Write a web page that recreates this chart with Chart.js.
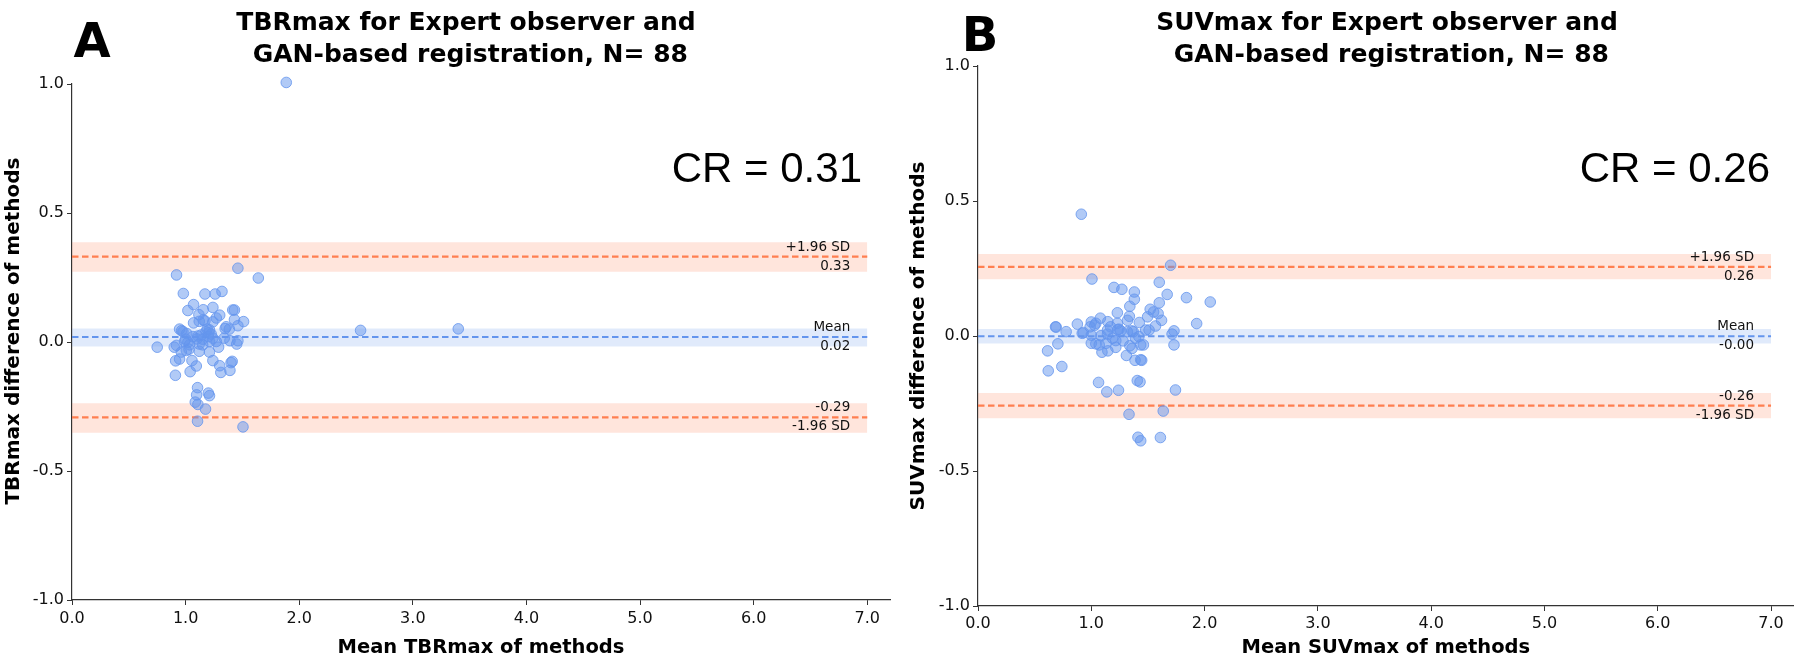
<!DOCTYPE html>
<html>
<head>
<meta charset="utf-8">
<script src="https://cdn.jsdelivr.net/npm/chart.js@4/dist/chart.umd.min.js"></script>
<style>
  body { margin: 0; background: #fff; }
  #wrap { position: relative; width: 1800px; height: 658px; }
  .panel { position: absolute; top: 0; width: 900px; height: 658px; }
</style>
</head>
<body>
<div id="wrap">
  <div class="panel" style="left:0"><canvas id="chartA" width="900" height="658"></canvas></div>
  <div class="panel" style="left:900px"><canvas id="chartB" width="900" height="658"></canvas></div>
</div>
<script>
// tick labels (both panels)
const xTicks = [0, 1, 2, 3, 4, 5, 6, 7];
const yTicks = [-1, -0.5, 0, 0.5, 1];

// panel A: TBRmax
const tbrMean = [0.75, 0.92, 0.98, 1.17, 1.26, 1.32, 1.46, 1.64, 1.07, 1.02, 1.155, 1.24, 1.117, 1.415, 1.43, 1.30,
  1.27, 1.24, 1.07, 1.12, 1.155, 1.17, 1.43, 1.51, 1.46, 1.357, 1.385, 0.947, 0.977, 1.01, 1.064, 1.108, 1.137, 1.18,
  1.21, 1.225, 1.24, 1.21, 1.34, 1.39, 1.46, 1.45, 1.29, 1.12, 1.02, 0.99, 0.90, 0.92, 1.03, 1.006, 0.962, 1.12, 1.21,
  0.947, 0.912, 1.056, 1.094, 1.04, 0.91, 1.24, 1.30, 1.31, 1.39, 1.41, 1.40, 1.105, 1.097, 1.20, 1.21, 1.085, 1.108,
  1.175, 1.105, 1.505, 2.54, 3.40, 1.886, 0.965, 1.10, 1.15, 1.19, 1.2, 1.035, 1.27, 1.15, 1.205, 1.348, 1.0];
const tbrDiff = [-0.02, 0.26, 0.188, 0.186, 0.186, 0.196, 0.286, 0.248, 0.145, 0.122, 0.125, 0.134, 0.106, 0.124, 0.124,
  0.104, 0.093, 0.078, 0.074, 0.08, 0.085, 0.082, 0.087, 0.079, 0.063, 0.059, 0.05, 0.05, 0.04, 0.033, 0.021, 0.023,
  0.027, 0.04, 0.047, 0.031, 0.015, 0.002, 0.015, 0.005, 0.005, -0.008, -0.02, -0.008, -0.001, 0.002, -0.02, -0.013,
  -0.028, -0.033, -0.039, -0.036, -0.039, -0.066, -0.073, -0.072, -0.093, -0.115, -0.129, -0.072, -0.092, -0.118,
  -0.11, -0.075, -0.08, -0.177, -0.205, -0.198, -0.208, -0.233, -0.242, -0.26, -0.307, -0.329, 0.045, 0.051, 1.006,
  0.044, 0.012, 0.011, 0.05, 0.021, -0.011, 0.002, -0.011, 0.036, 0.052, 0.011];
const tbrLines = [0.331, 0.0195, -0.292];            // +1.96 SD, mean, -1.96 SD
const tbrBandLo = [0.272, -0.017, -0.352];
const tbrBandHi = [0.387, 0.052, -0.237];

// panel B: SUVmax
const suvMean = [0.912, 1.70, 1.006, 1.60, 1.20, 1.27, 1.38, 1.67, 1.84, 2.05, 1.38, 1.60, 1.34, 1.52, 1.55, 1.59,
  1.497, 1.336, 1.62, 1.32, 1.23, 1.146, 1.08, 1.0, 1.04, 0.877, 0.684, 0.69, 0.778, 0.92, 0.93, 0.99, 1.03, 1.23,
  1.424, 1.567, 1.93, 1.73, 1.713, 1.48, 1.51, 1.357, 1.37, 1.245, 1.26, 1.143, 1.143, 1.085, 1.187, 1.216, 1.28,
  1.39, 1.0, 1.04, 1.07, 1.13, 1.216, 1.34, 1.36, 1.436, 1.46, 1.73, 0.705, 0.614, 1.094, 1.146, 1.31, 1.386, 1.436,
  1.445, 0.62, 0.74, 1.064, 1.406, 1.43, 1.137, 1.24, 1.743, 1.333, 1.635, 1.412, 1.436, 1.61, 1.234, 1.318, 1.42,
  1.0, 1.17];
const suvDiff = [0.451, 0.262, 0.211, 0.199, 0.18, 0.173, 0.163, 0.154, 0.142, 0.126, 0.136, 0.123, 0.11, 0.099,
  0.089, 0.083, 0.071, 0.073, 0.058, 0.058, 0.086, 0.053, 0.066, 0.052, 0.047, 0.044, 0.034, 0.033, 0.016, 0.010,
  0.013, 0.034, 0.04, 0.047, 0.050, 0.037, 0.046, 0.019, 0.007, 0.022, 0.022, 0.019, 0.016, 0.025, 0.019, 0.022,
  0.007, 0.001, -0.008, -0.017, -0.018, -0.008, -0.027, -0.029, -0.033, -0.027, -0.042, -0.036, -0.046, -0.033,
  -0.033, -0.033, -0.029, -0.055, -0.06, -0.055, -0.072, -0.09, -0.088, -0.09, -0.129, -0.113, -0.172, -0.165, -0.17,
  -0.207, -0.201, -0.2, -0.29, -0.278, -0.375, -0.388, -0.376, 0.024, 0.016, -0.002, 0.003, 0.034];
const suvLines = [0.256, -0.001, -0.258];
const suvBandLo = [0.21, -0.028, -0.305];
const suvBandHi = [0.304, 0.026, -0.211];

const lineLabels = [['+1.96 SD', null], ['Mean', null], [null, '-1.96 SD']];

const BLUE = '#6495ED';
const CORAL = '#FF7F50';

function hline(y, color) {
  return {
    data: [{ x: 0, y: y }, { x: 7, y: y }],
    showLine: true, borderColor: color, borderWidth: 2.1, borderDash: [6.5, 3.5],
    pointRadius: 0, fill: false, clip: false
  };
}

function band(lo, hi, color) {
  return [
    { data: [{ x: 0, y: hi }, { x: 7, y: hi }], showLine: true, borderWidth: 0, pointRadius: 0,
      backgroundColor: color, fill: '+1' },
    { data: [{ x: 0, y: lo }, { x: 7, y: lo }], showLine: true, borderWidth: 0, pointRadius: 0, fill: false }
  ];
}

// titles, panel letter, y title, CR and line labels
const textPlugin = {
  id: 'texts',
  afterDraw(chart) {
    const p = chart.options.plugins.texts;
    const ctx = chart.ctx;
    const xs = chart.scales.x, ys = chart.scales.y;
    ctx.save();
    ctx.fillStyle = '#000';
    ctx.textAlign = 'center';
    ctx.textBaseline = 'middle';
    ctx.font = 'bold 25px "DejaVu Sans"';
    p.title.forEach((t, i) => ctx.fillText(t, p.titleX, p.titleY + i * 32));
    ctx.font = 'bold 48px "DejaVu Sans"';
    ctx.fillText(p.letter, p.letterX, p.letterY);

    // y axis title
    ctx.save();
    ctx.translate(p.yTitleX, p.yTitleY);
    ctx.rotate(-Math.PI / 2);
    ctx.font = 'bold 20px "DejaVu Sans"';
    ctx.fillText(p.yTitle, 0, 0);
    ctx.restore();

    ctx.textAlign = 'right';
    ctx.font = '42px "Liberation Sans", Arial';
    ctx.fillText(p.cr, p.crX, p.crY);

    ctx.font = '13.5px "DejaVu Sans"';
    ctx.fillStyle = '#111';
    const lx = xs.getPixelForValue(6.85);
    p.lines.forEach((v, i) => {
      const py = ys.getPixelForValue(v);
      const val = v.toFixed(2) === '0.00' && v < 0 ? '-0.00' : v.toFixed(2);
      const top = lineLabels[i][0] || val;
      const bottom = lineLabels[i][1] || val;
      ctx.fillText(top, lx, py - 9.5);
      ctx.fillText(bottom, lx, py + 9.5);
    });
    ctx.restore();
  }
};

function makePanel(id, xs, ys, lines, bandLo, bandHi, opts) {
  const points = xs.map((x, i) => ({ x: x, y: ys[i] }));
  const datasets = [
    { data: points, pointRadius: 5.3, pointBackgroundColor: 'rgba(100,149,237,0.5)',
      pointBorderColor: 'rgba(100,149,237,0.8)', pointBorderWidth: 1, showLine: false, clip: false },
    hline(lines[0], CORAL), hline(lines[1], BLUE), hline(lines[2], CORAL),
    ...band(bandLo[0], bandHi[0], 'rgba(255,127,80,0.2)'),
    ...band(bandLo[1], bandHi[1], 'rgba(100,149,237,0.2)'),
    ...band(bandLo[2], bandHi[2], 'rgba(255,127,80,0.2)')
  ];
  const tickFont = { family: 'DejaVu Sans', size: 16 };
  const titleFont = { family: 'DejaVu Sans', size: 19.5, weight: 'bold', lineHeight: 1 };
  return new Chart(document.getElementById(id), {
    type: 'scatter',
    data: { datasets },
    options: {
      responsive: false,
      animation: false,
      layout: { padding: { left: 0, top: opts.top, right: opts.right, bottom: 0 } },
      plugins: {
        legend: { display: false },
        tooltip: { enabled: false },
        texts: Object.assign({ lines: lines }, opts.texts)
      },
      scales: {
        x: {
          type: 'linear', min: 0, max: 7.2,
          afterBuildTicks: s => { s.ticks = xTicks.map(v => ({ value: v })); },
          afterFit: s => { s.height = opts.xHeight; },
          ticks: { font: tickFont, color: '#111', padding: opts.xTickPad, callback: v => v.toFixed(1) },
          grid: { drawOnChartArea: false, tickLength: 5, color: '#333' },
          border: { color: '#333', width: 1.2 },
          title: { display: true, text: opts.xTitle, font: titleFont, color: '#000', padding: { top: 0, bottom: 0 } }
        },
        y: {
          type: 'linear', min: -1, max: 1,
          afterBuildTicks: s => { s.ticks = yTicks.map(v => ({ value: v })); },
          afterFit: s => { s.width = opts.yWidth; },
          ticks: { font: tickFont, color: '#111', padding: 3, callback: v => v.toFixed(1) },
          grid: { drawOnChartArea: false, tickLength: 5, color: '#333' },
          border: { color: '#333', width: 1.2 }
        }
      }
    },
    plugins: [textPlugin]
  });
}

makePanel('chartA', tbrMean, tbrDiff, tbrLines, tbrBandLo, tbrBandHi, {
  top: 84, right: 10, xHeight: 58, xTickPad: 4, yWidth: 72,
  xTitle: 'Mean TBRmax of methods',
  texts: {
    title: ['TBRmax for Expert observer and', ' GAN-based registration, N= 88'], titleX: 466, titleY: 23,
    letter: 'A', letterX: 92, letterY: 45, cr: 'CR = 0.31', crX: 862, crY: 170,
    yTitle: 'TBRmax difference of methods', yTitleX: 14, yTitleY: 331
  }
});

makePanel('chartB', suvMean, suvDiff, suvLines, suvBandLo, suvBandHi, {
  top: 66, right: 4, xHeight: 52, xTickPad: 3, yWidth: 78,
  xTitle: 'Mean SUVmax of methods',
  texts: {
    title: ['SUVmax for Expert observer and', ' GAN-based registration, N= 88'], titleX: 487, titleY: 23,
    letter: 'B', letterX: 80, letterY: 39, cr: 'CR = 0.26', crX: 870, crY: 170,
    yTitle: 'SUVmax difference of methods', yTitleX: 19, yTitleY: 336
  }
});
</script>
</body>
</html>
